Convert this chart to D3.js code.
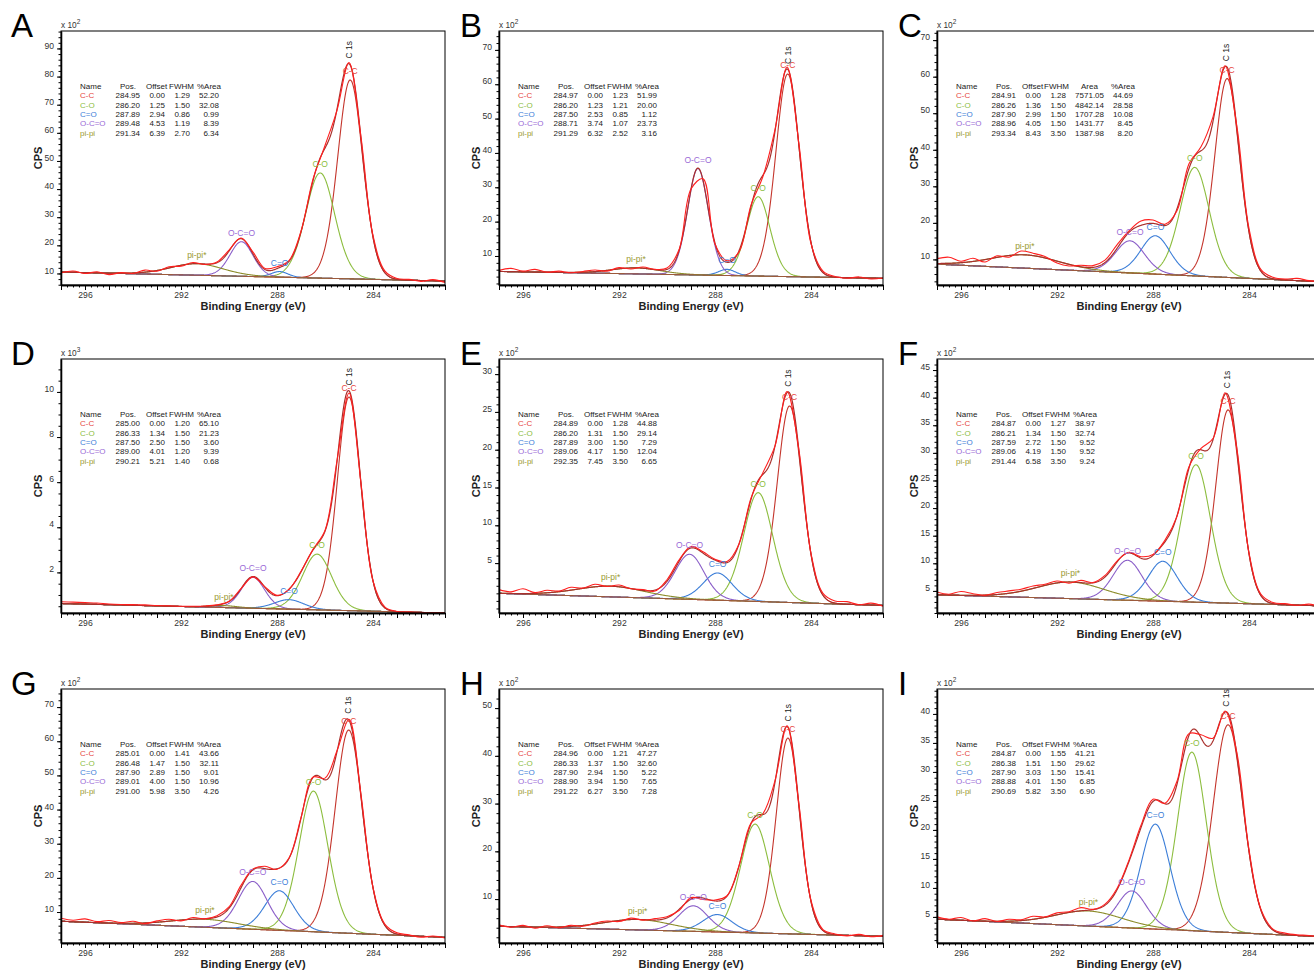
<!DOCTYPE html>
<html lang="en">
<head>
<meta charset="utf-8">
<title>C 1s XPS peak fits</title>
<script src="https://d3js.org/d3.v7.min.js"></script>
<style>
  body { margin: 0; background: #fff; }
  svg { display: block; font-family: "Liberation Sans", Arial, sans-serif; }
</style>
</head>
<body>
<script>
// ---- data ----
var letters = ["A", "B", "C", "D", "E", "F", "G", "H", "I"];
var names = ["C-C", "C-O", "C=O", "O-C=O", "pi-pi"];
var peakLabels = ["C-C", "C-O", "C=O", "O-C=O", "pi-pi*"];

var pos = [
  [284.95, 286.20, 287.89, 289.48, 291.34],
  [284.97, 286.20, 287.50, 288.71, 291.29],
  [284.91, 286.26, 287.90, 288.96, 293.34],
  [285.00, 286.33, 287.50, 289.00, 290.21],
  [284.89, 286.20, 287.89, 289.06, 292.35],
  [284.87, 286.21, 287.59, 289.06, 291.44],
  [285.01, 286.48, 287.90, 289.01, 291.00],
  [284.96, 286.33, 287.90, 288.90, 291.22],
  [284.87, 286.38, 287.90, 288.88, 290.69]
];
var offset = [
  [0.00, 1.25, 2.94, 4.53, 6.39],
  [0.00, 1.23, 2.53, 3.74, 6.32],
  [0.00, 1.36, 2.99, 4.05, 8.43],
  [0.00, 1.34, 2.50, 4.01, 5.21],
  [0.00, 1.31, 3.00, 4.17, 7.45],
  [0.00, 1.34, 2.72, 4.19, 6.58],
  [0.00, 1.47, 2.89, 4.00, 5.98],
  [0.00, 1.37, 2.94, 3.94, 6.27],
  [0.00, 1.51, 3.03, 4.01, 5.82]
];
var fwhm = [
  [1.29, 1.50, 0.86, 1.19, 2.70],
  [1.23, 1.21, 0.85, 1.07, 2.52],
  [1.28, 1.50, 1.50, 1.50, 3.50],
  [1.20, 1.50, 1.50, 1.20, 1.40],
  [1.28, 1.50, 1.50, 1.50, 3.50],
  [1.27, 1.50, 1.50, 1.50, 3.50],
  [1.41, 1.50, 1.50, 1.50, 3.50],
  [1.21, 1.50, 1.50, 1.50, 3.50],
  [1.55, 1.50, 1.50, 1.50, 3.50]
];
var pctArea = [
  [52.20, 32.08, 0.99, 8.39, 6.34],
  [51.99, 20.00, 1.12, 23.73, 3.16],
  [44.69, 28.58, 10.08, 8.45, 8.20],
  [65.10, 21.23, 3.60, 9.39, 0.68],
  [44.88, 29.14, 7.29, 12.04, 6.65],
  [38.97, 32.74, 9.52, 9.52, 9.24],
  [43.66, 32.11, 9.01, 10.96, 4.26],
  [47.27, 32.60, 5.22, 7.65, 7.28],
  [41.21, 29.62, 15.41, 6.85, 6.90]
];
var areaC = [7571.05, 4842.14, 1707.28, 1431.77, 1387.98]; // only panel C lists Area

// component heights above background
var heights = [
  [70.7, 37.4, 2.0, 12.3, 4.1],
  [59.0, 23.1, 1.8, 31.0, 1.75],
  [54.4, 29.7, 10.5, 8.8, 3.65],
  [9.47, 2.47, 0.42, 1.37, 0.085],
  [26.0, 14.4, 3.6, 5.96, 1.41],
  [35.0, 24.9, 7.24, 7.24, 3.0],
  [59.5, 41.2, 11.6, 14.0, 2.34],
  [41.0, 22.8, 3.65, 5.35, 2.18],
  [35.8, 30.8, 18.1, 6.4, 2.6]
];
// linear background at 297 eV and at 281 eV
var bgLeft  = [10.5, 5.5, 8.7, 0.62, 1.0, 4.3, 7.3, 4.3, 4.6];
var bgRight = [7.3, 3.5, 3.9, 0.20, -0.6, 2.3, 2.6, 2.2, 1.6];

// y axis of each panel
var yMin = [5.9, 1.55, 3.0, 0.2, -1.6, 1.0, 0.93, 0.8, 0.5];
var yMax = [96.2, 75.5, 72.5, 11.46, 32.0, 47.0, 75.3, 54.0, 44.3];
var yTicks = [
  [10, 20, 30, 40, 50, 60, 70, 80, 90],
  [10, 20, 30, 40, 50, 60, 70],
  [10, 20, 30, 40, 50, 60, 70],
  [2, 4, 6, 8, 10],
  [5, 10, 15, 20, 25, 30],
  [5, 10, 15, 20, 25, 30, 35, 40, 45],
  [10, 20, 30, 40, 50, 60, 70],
  [10, 20, 30, 40, 50],
  [5, 10, 15, 20, 25, 30, 35, 40]
];
var yMinorStep = [2, 2, 2, 0.5, 1, 1, 2, 2, 1];
var yExp = [2, 2, 2, 3, 2, 2, 2, 2, 2];
var xTicks = [296, 292, 288, 284];

// measured spectrum, sampled every 0.5 eV
var rawX = [297, 296.5, 296, 295.5, 295, 294.5, 294, 293.5, 293, 292.5, 292, 291.5, 291, 290.5, 290, 289.5,
            289, 288.5, 288, 287.5, 287, 286.5, 286, 285.5, 285, 284.5, 284, 283.5, 283, 282.5, 282, 281.5, 281];
var rawA = [10.2, 10.9, 10.0, 10.6, 9.6, 10.3, 10.0, 11.2, 10.8, 12.4, 12.6, 13.9, 13.2, 14.1, 18.3, 22.6,
            17.6, 11.8, 12.4, 14.6, 25.0, 43.5, 55.5, 68.0, 85.0, 58.5, 23.5, 10.8, 8.2, 7.9, 7.2, 7.8, 6.8];
var rawB = [5.8, 6.4, 5.6, 6.1, 5.3, 5.6, 5.1, 5.5, 5.9, 5.6, 6.6, 6.2, 6.8, 6.1, 6.5, 11.8,
            29.5, 32.5, 13.5, 8.6, 11.2, 24.8, 33.2, 46.8, 65.0, 42.5, 13.6, 5.6, 4.0, 3.5, 3.9, 3.3, 3.6];
var rawC = [10.2, 10.6, 9.5, 10.3, 9.3, 11.0, 10.6, 12.3, 11.7, 10.8, 9.0, 8.2, 8.4, 8.3, 9.8, 14.0,
            17.8, 20.5, 20.8, 19.6, 23.3, 36.2, 40.8, 49.0, 63.0, 46.2, 18.5, 7.2, 5.1, 4.6, 4.8, 4.2, 3.9];
var rawD = [0.70, 0.68, 0.66, 0.64, 0.60, 0.58, 0.57, 0.56, 0.53, 0.52, 0.50, 0.50, 0.51, 0.56, 0.72, 1.28,
            1.80, 1.36, 0.98, 1.25, 2.05, 3.02, 3.86, 6.95, 9.95, 5.95, 1.62, 0.46, 0.27, 0.24, 0.22, 0.21, 0.20];
var rawE = [1.5, 1.2, 1.6, 1.1, 1.4, 1.3, 1.8, 1.7, 2.2, 1.9, 2.1, 1.6, 1.5, 1.3, 2.8, 5.4,
            7.2, 6.5, 5.5, 5.2, 7.5, 13.6, 17.0, 20.5, 27.7, 19.9, 6.3, 1.0, 0.0, -0.1, -0.5, -0.3, -0.7];
var rawF = [4.8, 4.4, 4.9, 4.5, 4.2, 4.7, 5.0, 5.3, 5.9, 6.2, 6.8, 6.4, 6.9, 6.5, 7.8, 10.4,
            12.0, 11.2, 11.6, 14.2, 18.5, 27.5, 30.8, 32.6, 40.9, 30.6, 11.9, 4.4, 2.9, 2.7, 2.4, 2.6, 2.2];
var rawG = [8.2, 7.6, 8.0, 7.2, 7.5, 6.9, 7.3, 6.6, 7.4, 7.9, 7.4, 8.4, 8.0, 8.9, 11.5, 17.8,
            22.6, 23.4, 22.5, 25.8, 37.6, 49.5, 49.2, 57.2, 66.4, 44.4, 17.2, 6.4, 3.9, 3.3, 2.6, 3.0, 2.4];
var rawH = [4.6, 4.1, 4.5, 3.9, 4.4, 4.0, 4.5, 4.3, 5.0, 5.4, 5.3, 6.0, 5.6, 5.9, 6.3, 7.6,
            10.3, 9.9, 9.8, 10.7, 17.0, 25.9, 27.9, 34.8, 46.3, 29.8, 9.7, 3.6, 2.7, 2.3, 2.6, 2.1, 2.4];
var rawI = [5.0, 4.6, 4.9, 4.3, 4.7, 4.2, 4.6, 4.5, 5.1, 5.0, 5.7, 5.9, 6.6, 6.3, 7.2, 9.9,
            14.8, 20.8, 25.3, 24.6, 28.4, 36.6, 36.4, 35.8, 40.5, 33.2, 16.6, 6.3, 2.9, 2.2, 1.9, 1.8, 1.5];
var raw = [rawA, rawB, rawC, rawD, rawE, rawF, rawG, rawH, rawI];

// ---- drawing ----
var W = 1314, H = 971;
var colLeft = [61, 499, 937];
var rowTop = [31, 359, 689];
var pw = 384, ph = 254;
var lineColors = ["#c4352c", "#8cbd3e", "#3c7ed8", "#8a5ec8", "#8c8c2a"];
var textColors = ["#e6463d", "#8cbd3e", "#3c7ed8", "#9a6ad6", "#9a9a30"];

var svg = d3.select("body").append("svg").attr("width", W).attr("height", H);
svg.append("rect").attr("width", W).attr("height", H).attr("fill", "#fff");

// Gaussian-Lorentzian product line shape, GL(30)
function gl(e, c, f) {
  var u = (e - c) / f;
  return Math.exp(-4 * Math.LN2 * 0.7 * u * u) / (1 + 1.2 * u * u);
}

var fine = d3.range(297, 280.99, -0.02);

letters.forEach(function(L, i) {
  var col = i % 3, row = Math.floor(i / 3);
  var left = colLeft[col], top = rowTop[row];
  var x = d3.scaleLinear().domain([297, 281]).range([left, left + pw]);
  var y = d3.scaleLinear().domain([yMin[i], yMax[i]]).range([top + ph, top]);
  var g = svg.append("g");

  var clipId = "clip" + L;
  g.append("clipPath").attr("id", clipId)
    .append("rect").attr("x", left).attr("y", top).attr("width", pw).attr("height", ph);

  var bg = function(e) { return bgRight[i] + (e - 281) * (bgLeft[i] - bgRight[i]) / 16; };
  var comp = function(j, e) { return heights[i][j] * gl(e, pos[i][j], fwhm[i][j]); };
  var env = function(e) {
    var s = bg(e);
    for (var j = 0; j < 5; j++) s += comp(j, e);
    return s;
  };

  var plot = g.append("g").attr("clip-path", "url(#" + clipId + ")");
  var line = d3.line().x(function(d) { return x(d[0]); }).y(function(d) { return y(d[1]); });

  [0, 1, 2, 3, 4].forEach(function(j) {
    plot.append("path")
      .attr("d", line(fine.map(function(e) { return [e, bg(e) + comp(j, e)]; })))
      .attr("fill", "none").attr("stroke", lineColors[j]).attr("stroke-width", 1.1);
  });
  plot.append("path")
    .attr("d", line(fine.map(function(e) { return [e, bg(e)]; })))
    .attr("fill", "none").attr("stroke", "#9c5a3c").attr("stroke-width", 1.1);
  plot.append("path")
    .attr("d", line(fine.map(function(e) { return [e, env(e)]; })))
    .attr("fill", "none").attr("stroke", "#a8302c").attr("stroke-width", 1.2);
  var rawLine = d3.line().curve(d3.curveCatmullRom.alpha(0.5))
    .x(function(d, k) { return x(rawX[k]); }).y(function(d) { return y(d); });
  plot.append("path").attr("d", rawLine(raw[i]))
    .attr("fill", "none").attr("stroke", "#ff1f1f").attr("stroke-width", 1.1);

  // peak labels
  pos[i].forEach(function(p, j) {
    var pk = bg(p) + heights[i][j];
    g.append("text").attr("x", x(p)).attr("y", y(pk) - 6)
      .attr("text-anchor", "middle").attr("font-size", 8.5)
      .attr("fill", textColors[j]).text(peakLabels[j]);
  });
  var apexE = d3.greatest(fine, function(e) { return env(e); });
  g.append("text")
    .attr("transform", "translate(" + (x(apexE) + 3.5) + "," + (y(env(apexE)) - 5) + ") rotate(-90)")
    .attr("font-size", 8.5).attr("fill", "#222").text("C 1s");

  // axes
  var xAxis = g.append("g").attr("transform", "translate(0," + (top + ph) + ")")
    .call(d3.axisBottom(x).tickValues(d3.range(281, 297.01, 1)).tickSize(5).tickSizeOuter(0)
      .tickFormat(function(d) { return xTicks.indexOf(d) >= 0 ? d : ""; }));
  g.append("g").attr("transform", "translate(0," + (top + ph) + ")")
    .call(d3.axisBottom(x).tickValues(d3.range(281, 297.01, 0.25)).tickSize(2.5).tickFormat("").tickSizeOuter(0));

  var yAxis = g.append("g").attr("transform", "translate(" + left + ",0)")
    .call(d3.axisLeft(y).tickValues(yTicks[i]).tickSize(4).tickSizeOuter(0));
  var minor = d3.range(Math.ceil(yMin[i] / yMinorStep[i]) * yMinorStep[i], yMax[i], yMinorStep[i]);
  g.append("g").attr("transform", "translate(" + left + ",0)")
    .call(d3.axisLeft(y).tickValues(minor).tickSize(2.5).tickFormat("").tickSizeOuter(0));

  g.selectAll(".domain").attr("stroke", "#000").attr("stroke-width", 1.3);
  g.selectAll(".tick line").attr("stroke", "#000");
  xAxis.selectAll("text").attr("font-size", 8.6).attr("fill", "#333").attr("dy", "0.55em")
    .attr("font-family", "Liberation Sans, Arial, sans-serif");
  yAxis.selectAll("text").attr("font-size", 8.6).attr("fill", "#333").attr("dy", "-0.05em")
    .attr("font-family", "Liberation Sans, Arial, sans-serif");

  g.append("rect").attr("x", left).attr("y", top).attr("width", pw).attr("height", ph)
    .attr("fill", "none").attr("stroke", "#000").attr("stroke-width", 1);

  // axis titles
  g.append("text").attr("x", left + pw / 2).attr("y", top + ph + 25)
    .attr("text-anchor", "middle").attr("font-size", 11).attr("font-weight", "bold")
    .attr("fill", "#222").text("Binding Energy (eV)");
  g.append("text").attr("transform", "translate(" + (left - 19) + "," + (top + ph / 2) + ") rotate(-90)")
    .attr("text-anchor", "middle").attr("font-size", 11).attr("font-weight", "bold")
    .attr("fill", "#222").text("CPS");
  var ex = g.append("text").attr("x", left).attr("y", top - 3).attr("font-size", 8.3).attr("fill", "#333");
  ex.append("tspan").text("x 10");
  ex.append("tspan").attr("dy", -4).attr("font-size", 6.5).text(yExp[i]);

  // panel letter
  g.append("text").attr("x", col === 0 ? 11 : left - 39).attr("y", top + 6)
    .attr("font-size", 33).attr("fill", "#000").text(L);

  // fit table
  var tx = left + 19, ty = top + 58, rh = 9.3;
  var hasArea = (L === "C");
  var tbl = g.append("g").attr("font-size", 8);
  var heads = hasArea
    ? [["Name", 0], ["Pos.", 40], ["Offset", 66], ["FWHM", 88], ["Area", 125], ["%Area", 155]]
    : [["Name", 0], ["Pos.", 40], ["Offset", 66], ["FWHM", 89], ["%Area", 117]];
  heads.forEach(function(h) {
    tbl.append("text").attr("x", tx + h[1]).attr("y", ty).attr("fill", "#222").text(h[0]);
  });
  names.forEach(function(n, j) {
    var yy = ty + rh * (j + 1);
    tbl.append("text").attr("x", tx).attr("y", yy).attr("fill", textColors[j]).text(n);
    var cols = [[pos[i][j].toFixed(2), 60], [offset[i][j].toFixed(2), 85], [fwhm[i][j].toFixed(2), 110]];
    if (hasArea) {
      cols.push([areaC[j].toFixed(2), 148]);
      cols.push([pctArea[i][j].toFixed(2), 177]);
    } else {
      cols.push([pctArea[i][j].toFixed(2), 139]);
    }
    cols.forEach(function(c) {
      tbl.append("text").attr("x", tx + c[1]).attr("y", yy).attr("text-anchor", "end").attr("fill", "#222").text(c[0]);
    });
  });
});
</script>
</body>
</html>
